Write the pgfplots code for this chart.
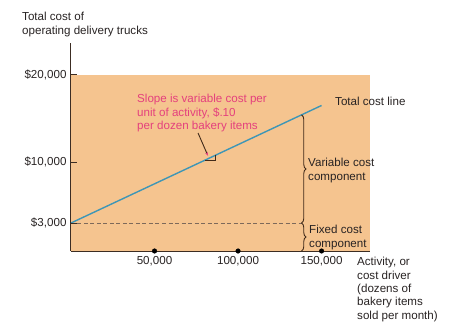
\documentclass[border=0pt]{standalone}
\usepackage{fontspec}
\setmainfont{Liberation Sans}
\usepackage{pgfplots}
\pgfplotsset{compat=1.18}
\usetikzlibrary{decorations.pathreplacing,arrows.meta,calc}
\definecolor{bgfill}{RGB}{245,196,143}
\definecolor{axisc}{RGB}{60,45,35}
\definecolor{linec}{RGB}{62,150,182}
\definecolor{dashc}{RGB}{125,105,90}
\definecolor{pinkc}{RGB}{228,64,125}
\definecolor{txtc}{RGB}{40,35,35}
\definecolor{bracec}{RGB}{65,42,25}
\newcommand{\lbl}{\fontsize{11.6}{13.4}\selectfont}
\begin{document}
\begin{tikzpicture}[x=1pt,y=1pt]
\begin{axis}[scale only axis,
  width=299pt, height=208pt,
  xmin=0, xmax=179000, ymin=-216, ymax=23675,
  axis lines=left, axis on top,
  axis line style={-, draw=axisc, line width=1pt},
  clip=false, scaled ticks=false,
  xtick={50000,100000,150000},
  xticklabels={{50,000},{100,000},{150,000}},
  ytick={3000,10000,20000},
  yticklabels={{\$3,000},{\$10,000},{\$20,000}},
  x tick style={draw=none},
  y tick style={draw=axisc, line width=1pt},
  major tick length=6pt, tick align=inside,
  ticklabel style={font=\lbl, text=txtc},
  xticklabel style={yshift=-2pt},
  yticklabel style={xshift=-1pt},
]
\coordinate (O) at (rel axis cs:0,0);
\fill[bgfill] (axis cs:0,-216) rectangle (axis cs:179000,20000);
\addplot[dashc, dash pattern=on 4pt off 2.5pt, line width=0.8pt] coordinates {(0,3000) (138000,3000)};
\addplot[linec, line width=1.4pt] coordinates {(0,3000) (150000,16500)};
\addplot[only marks, mark=*, mark size=2.3pt, black] coordinates {(50000,-216) (100000,-216) (150000,-216)};
\draw[bracec, line width=0.9pt] (axis cs:80240,10222) -- (axis cs:86230,10222) -- (axis cs:86230,10761);
\draw[bracec, line width=0.9pt, -{Stealth[length=4pt,width=3pt,color=pinkc]}] (axis cs:76050,13338) -- (axis cs:82036,10700);
\draw[decorate, decoration={brace, amplitude=4.5pt}, bracec, line width=0.9pt] (axis cs:138000,15420) -- (axis cs:138000,3000);
\draw[decorate, decoration={brace, amplitude=4.5pt}, bracec, line width=0.9pt] (axis cs:138000,3000) -- (axis cs:138000,-216);
\end{axis}
\begin{scope}[shift={($(O)+(-71,-84)$)}]
\useasboundingbox (0,0) rectangle (474,335);
\node[anchor=north west, align=left, inner sep=0, font=\lbl, text=txtc] at (22,323) {Total cost of\\operating delivery trucks};
\node[anchor=north west, align=left, inner sep=0, font=\lbl, text=pinkc] at (137,241) {Slope is variable cost per\\unit of activity, \$.10\\per dozen bakery items};
\node[anchor=west, inner sep=0, font=\lbl, text=txtc] at (335,234) {Total cost line};
\node[anchor=north west, align=left, inner sep=0, font=\lbl, text=txtc] at (308,177) {Variable cost\\component};
\node[anchor=north west, align=left, inner sep=0, font=\lbl, text=txtc] at (309,110) {Fixed cost\\component};
\node[anchor=north west, align=left, inner sep=0, font=\lbl, text=txtc] at (357,78) {Activity, or\\cost driver\\(dozens of\\bakery items\\sold per month)};
\end{scope}
\end{tikzpicture}
\end{document}
